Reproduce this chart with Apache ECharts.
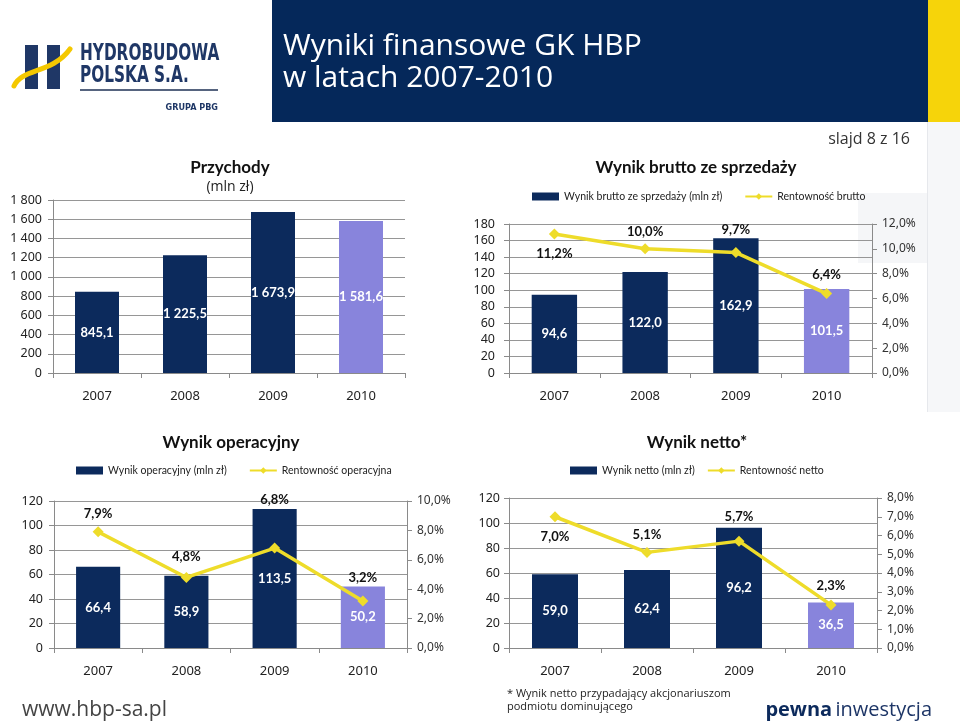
<!DOCTYPE html>
<html>
<head>
<meta charset="utf-8">
<script src="https://cdn.jsdelivr.net/npm/echarts@6/dist/echarts.min.js"></script>
<style>
html,body{margin:0;padding:0;background:#fff;}
#c{width:960px;height:728px;}
</style>
</head>
<body>
<div id="c"></div>
<script>
// ---- data ----
const years = ['2007', '2008', '2009', '2010'];
const revenue = [845.1, 1225.5, 1673.9, 1581.6];
const grossProfit = [94.6, 122.0, 162.9, 101.5];
const grossMargin = [11.2, 10.0, 9.7, 6.4];
const operatingProfit = [66.4, 58.9, 113.5, 50.2];
const operatingMargin = [7.9, 4.8, 6.8, 3.2];
const netProfit = [59.0, 62.4, 96.2, 36.5];
const netMargin = [7.0, 5.1, 5.7, 2.3];

// ---- styles ----
const NAVY = '#0c2a5c';
const LAV = '#8884dc';
const YEL = '#eedc2a';
const AX = '#8a8a8a';
const GR = '#969696';
const barColors = [NAVY, NAVY, NAVY, LAV];
const FONT = 'Lato';
const AXFONT = 'Noto Sans';
const LOGO = '#1f3766';

function grpInt(n) {
  return String(n).replace(/\B(?=(\d{3})+(?!\d))/g, ' ');
}
function fmtNum(v) {
  const s = v.toFixed(1).split('.');
  return grpInt(s[0]) + ',' + s[1];
}
function fmtPct(v) { return v.toFixed(1).replace('.', ',') + '%'; }

const chart = echarts.init(document.getElementById('c'), null, {renderer: 'canvas'});

function gridDef(l, t, w, h) {
  return {left: l, top: t, width: w, height: h, containLabel: false, outerBoundsMode: 'none'};
}
function xAx(g) {
  return {
    type: 'category', gridIndex: g, data: years,
    axisLine: {show: true, lineStyle: {color: AX, width: 1}},
    axisTick: {show: true, alignWithLabel: false, interval: 0, length: 5, lineStyle: {color: AX}},
    axisLabel: {margin: 17, fontSize: 13, color: '#222', fontFamily: AXFONT}
  };
}
function leftAx(g, max, interval, margin) {
  return {
    type: 'value', gridIndex: g, min: 0, max: max, interval: interval, position: 'left',
    axisLine: {show: true, lineStyle: {color: AX}},
    axisTick: {show: true, length: 5, lineStyle: {color: AX}},
    splitLine: {show: true, lineStyle: {color: GR, width: 1}},
    axisLabel: {margin: margin, fontSize: 12.5, color: '#222', fontFamily: AXFONT,
      formatter: v => grpInt(v)}
  };
}
function rightAx(g, max, interval) {
  return {
    type: 'value', gridIndex: g, min: 0, max: max, interval: interval, position: 'right',
    axisLine: {show: true, lineStyle: {color: AX}},
    axisTick: {show: true, length: 5, lineStyle: {color: AX}},
    splitLine: {show: false},
    axisLabel: {margin: 10, fontSize: 12, color: '#333', fontFamily: AXFONT, formatter: v => fmtPct(v)}
  };
}
function barSeries(name, data, xi, yi) {
  return {
    name: name, type: 'bar', xAxisIndex: xi, yAxisIndex: yi, barWidth: '50%',
    data: data.map((v, i) => ({value: v, itemStyle: {color: barColors[i]}})),
    itemStyle: {color: NAVY},
    label: {show: true, position: 'inside', color: '#fff', fontWeight: 'bold', fontSize: 13,
      fontFamily: FONT, formatter: p => fmtNum(p.value)}
  };
}
function lineSeries(name, data, xi, yi, placement) {
  return {
    name: name, type: 'line', xAxisIndex: xi, yAxisIndex: yi, z: 5,
    symbol: 'diamond', symbolSize: 11,
    lineStyle: {color: YEL, width: 3.5}, itemStyle: {color: YEL},
    data: data.map((v, i) => ({value: v,
      label: {position: placement[i][0], distance: placement[i][1]}})),
    label: {show: true, color: '#111', fontWeight: 'bold', fontSize: 13, fontFamily: FONT,
      formatter: p => fmtPct(p.value)}
  };
}
function legendDef(left, top, gap, names) {
  return {
    left: left, top: top, padding: 0, itemWidth: 27, itemHeight: 8, itemGap: gap,
    textStyle: {fontSize: 10.5, color: '#222', fontFamily: FONT},
    data: [{name: names[0], icon: 'rect'}, {name: names[1]}]
  };
}
function txt(x, y, s, size, opts, extra) {
  return Object.assign({type: 'text', x: x, y: y,
    style: Object.assign({text: s, fontSize: size, fontFamily: FONT, fill: '#111',
      textVerticalAlign: 'middle', textAlign: 'left'}, opts || {})}, extra || {});
}

const place2 = [['bottom', 8], ['top', 5], ['top', 11], ['top', 7]];
const place3 = [['top', 6], ['top', 9], ['top', 36], ['top', 11]];
const place4 = [['bottom', 8], ['top', 6], ['top', 12], ['top', 7]];

const option = {
  animation: false,
  backgroundColor: '#ffffff',
  grid: [
    gridDef(53, 200, 352, 173),
    gridDef(509, 224, 363, 149),
    gridDef(54, 501, 353, 147),
    gridDef(509, 498, 368, 150)
  ],
  xAxis: [xAx(0), xAx(1), xAx(2), xAx(3)],
  yAxis: [
    leftAx(0, 1800, 200, 11),
    leftAx(1, 180, 20, 14),
    rightAx(1, 12, 2),
    leftAx(2, 120, 20, 11),
    rightAx(2, 10, 2),
    leftAx(3, 120, 20, 9),
    rightAx(3, 8, 1)
  ],
  legend: [
    legendDef(532, 191, 22, ['Wynik brutto ze sprzedaży (mln zł)', 'Rentowność brutto']),
    legendDef(76, 465, 22, ['Wynik operacyjny (mln zł)', 'Rentowność operacyjna']),
    legendDef(570, 465, 12, ['Wynik netto (mln zł)', 'Rentowność netto'])
  ],
  series: [
    barSeries('Przychody (mln zł)', revenue, 0, 0),
    barSeries('Wynik brutto ze sprzedaży (mln zł)', grossProfit, 1, 1),
    lineSeries('Rentowność brutto', grossMargin, 1, 2, place2),
    barSeries('Wynik operacyjny (mln zł)', operatingProfit, 2, 3),
    lineSeries('Rentowność operacyjna', operatingMargin, 2, 4, place3),
    barSeries('Wynik netto (mln zł)', netProfit, 3, 5),
    lineSeries('Rentowność netto', netMargin, 3, 6, place4)
  ],
  graphic: [
    // background panels
    {type: 'rect', z: -10, shape: {x: 928, y: 122, width: 32, height: 290}, style: {fill: '#f6f7f9'}},
    {type: 'rect', z: -10, shape: {x: 858, y: 193, width: 70, height: 70}, style: {fill: '#f5f6f8'}},
    {type: 'rect', z: -10, shape: {x: 927, y: 122, width: 1, height: 290}, style: {fill: '#e6e8ec'}},
    // header
    {type: 'rect', shape: {x: 272, y: 0, width: 656, height: 122}, style: {fill: '#05285a'}},
    {type: 'rect', shape: {x: 928, y: 0, width: 32, height: 122}, style: {fill: '#f6d40a'}},
    txt(283, 46, 'Wyniki finansowe GK HBP', 30, {fill: '#ffffff', fontFamily: 'Open Sans'}),
    txt(283, 78, 'w latach 2007-2010', 30, {fill: '#ffffff', fontFamily: 'Open Sans'}),
    txt(910, 139, 'slajd 8 z 16', 16, {fill: '#333', textAlign: 'right', fontFamily: 'Open Sans'}),
    // logo
    {type: 'rect', shape: {x: 25, y: 45, width: 13, height: 44}, style: {fill: LOGO}},
    {type: 'rect', shape: {x: 47, y: 45, width: 13, height: 44}, style: {fill: LOGO}},
    {type: 'bezierCurve', shape: {x1: 14, y1: 86, cpx1: 22, cpy1: 68, cpx2: 52, cpy2: 74, x2: 70, y2: 49},
      style: {fill: 'none', stroke: '#f4c800', lineWidth: 5, lineCap: 'round'}},
    txt(80, 54, 'HYDROBUDOWA', 23, {fill: LOGO, fontWeight: 'bold', fontFamily: 'DejaVu Sans Condensed'}, {scaleX: 0.74}),
    txt(80, 76, 'POLSKA S.A.', 23, {fill: LOGO, fontWeight: 'bold', fontFamily: 'DejaVu Sans Condensed'}, {scaleX: 0.74}),
    {type: 'rect', shape: {x: 80, y: 89, width: 138, height: 2}, style: {fill: '#56647f'}},
    txt(218, 108, 'GRUPA PBG', 9, {fill: LOGO, fontWeight: 'bold', textAlign: 'right', fontFamily: 'DejaVu Sans Condensed'}),
    // chart titles
    txt(230, 168, 'Przychody', 17, {fontWeight: 'bold', textAlign: 'center'}),
    txt(230, 187, '(mln zł)', 14, {textAlign: 'center', fontFamily: 'Open Sans', fill: '#222'}),
    txt(696, 168, 'Wynik brutto ze sprzedaży', 17, {fontWeight: 'bold', textAlign: 'center'}),
    txt(231, 443, 'Wynik operacyjny', 17, {fontWeight: 'bold', textAlign: 'center'}),
    txt(697, 443, 'Wynik netto*', 17, {fontWeight: 'bold', textAlign: 'center'}),
    // footer
    txt(22, 710, 'www.hbp-sa.pl', 21, {fill: '#444', fontFamily: 'Open Sans'}),
    txt(507, 694, '* Wynik netto przypadający akcjonariuszom', 11, {fill: '#222', fontFamily: 'Open Sans'}),
    txt(507, 707, 'podmiotu dominującego', 11, {fill: '#222', fontFamily: 'Open Sans'}),
    {type: 'text', x: 932, y: 710, style: {
      text: '{b|pewna} {n|inwestycja}', textAlign: 'right', textVerticalAlign: 'middle',
      rich: {
        b: {fontSize: 20, fontWeight: 'bold', fill: '#0c2a5c', fontFamily: 'Open Sans'},
        n: {fontSize: 20, fill: '#1d3566', fontFamily: 'Open Sans'}
      }}}
  ]
};
chart.setOption(option);
</script>
</body>
</html>
